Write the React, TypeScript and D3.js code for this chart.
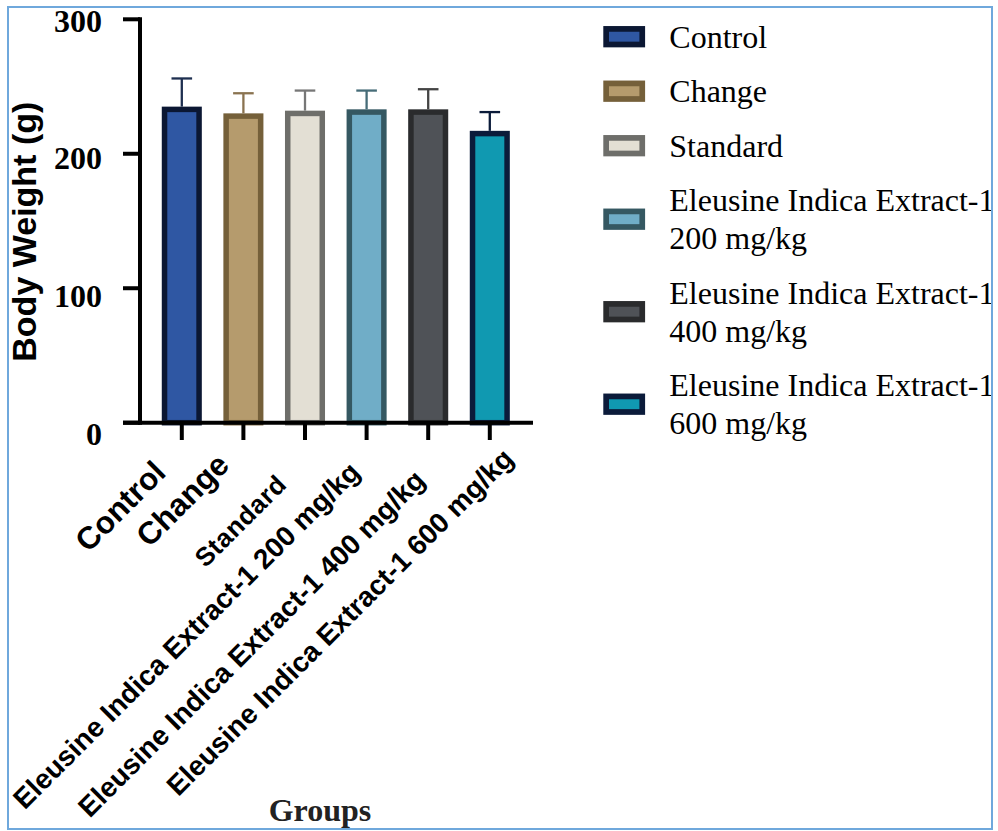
import React from "react";
import * as d3 from "d3";

// Groups and their mean body weight (g) with standard deviation
const groups = [
  "Control",
  "Change",
  "Standard",
  "Eleusine Indica Extract-1 200 mg/kg",
  "Eleusine Indica Extract-1 400 mg/kg",
  "Eleusine Indica Extract-1 600 mg/kg",
];
const meanWeight = [233, 228, 230, 231, 231, 215];
const sdWeight = [23, 17, 17, 16, 17, 16];
const yTicks = [0, 100, 200, 300];
const legendLines = [
  ["Control"],
  ["Change"],
  ["Standard"],
  ["Eleusine Indica Extract-1", "200 mg/kg"],
  ["Eleusine Indica Extract-1", "400 mg/kg"],
  ["Eleusine Indica Extract-1", "600 mg/kg"],
];

// Styling per group
const fillColors = ["#2F57A3", "#B59B6D", "#E3DFD4", "#70ADC7", "#4F5257", "#1099B1"];
const edgeColors = ["#0B1733", "#75603A", "#6E6E6A", "#355862", "#2A2B2D", "#0B1B3A"];
const errColors = ["#1E2F50", "#8A7350", "#777777", "#466C78", "#444444", "#0B1B3A"];
// Hand-placed anchor points for the rotated group labels (relative to tick end)
const labelNudge = [
  { dx: -14.3, dy: 34.3, size: 31.5, spacing: 0 },
  { dx: -12.4, dy: 26.8, size: 31.5, spacing: 0 },
  { dx: -17, dy: 46, size: 26, spacing: 0.5 },
  { dx: -5.1, dy: 33.8, size: 28, spacing: 0 },
  { dx: -1.7, dy: 42, size: 28, spacing: 0 },
  { dx: 25.2, dy: 20.5, size: 28, spacing: 0 },
];

const SERIF = "'Liberation Serif', 'Times New Roman', serif";
const SANS = "'Liberation Sans', Arial, sans-serif";

export default function App() {
  const W = 998;
  const H = 831;

  const y = d3.scaleLinear().domain([0, 300]).range([422.7, 19.3]);
  const yLabel = d3.scaleLinear().domain([0, 300]).range([445, 31.7]);
  const x = d3
    .scaleBand<string>()
    .domain(groups)
    .range([151, 520.6])
    .paddingInner(0.35)
    .paddingOuter(0.175);

  const axisX = 140;
  const axisY = y(0);
  const barStroke = 5.5;
  const bw = x.bandwidth();

  // legend layout: each entry takes lineHeight per line plus a gap
  const lineH = 38;
  const gap = 16.5;
  let cursor = 36.7 - (lineH + gap) / 2;
  const legendCenters = legendLines.map((lines) => {
    const h = lines.length * lineH + gap;
    const c = cursor + h / 2;
    cursor += h;
    return c;
  });

  return (
    <svg
      width={W}
      height={H}
      viewBox={`0 0 ${W} ${H}`}
      style={{ position: "absolute", left: 0, top: 0, display: "block", background: "#fff" }}
    >
      <defs>
        <clipPath id="frameClip">
          <rect x={8} y={7} width={983} height={821} />
        </clipPath>
      </defs>
      <rect x={0} y={0} width={W} height={H} fill="#fff" />

      {/* bars */}
      {groups.map((g, i) => {
        const x0 = x(g)!;
        const top = y(meanWeight[i]);
        return (
          <rect
            key={g}
            x={x0 + barStroke / 2}
            y={top}
            width={bw - barStroke}
            height={axisY - top}
            fill={fillColors[i]}
            stroke={edgeColors[i]}
            strokeWidth={barStroke}
          />
        );
      })}

      {/* error bars (upper SD) */}
      {groups.map((g, i) => {
        const cx = x(g)! + bw / 2;
        const top = y(meanWeight[i] + sdWeight[i]);
        const base = y(meanWeight[i]) - barStroke / 2;
        return (
          <g key={g} stroke={errColors[i]} strokeWidth={2.3}>
            <line x1={cx} x2={cx} y1={base} y2={top} />
            <line x1={cx - 10.3} x2={cx + 10.3} y1={top} y2={top} />
          </g>
        );
      })}

      {/* y axis */}
      <g stroke="#000" strokeWidth={4}>
        <line x1={axisX} x2={axisX} y1={y(300) - 2} y2={axisY + 2} />
        {yTicks.map((t) => (
          <line key={t} x1={123} x2={axisX} y1={y(t)} y2={y(t)} />
        ))}
      </g>
      {yTicks.map((t) => (
        <text
          key={t}
          x={102}
          y={yLabel(t)}
          textAnchor="end"
          fontFamily={SERIF}
          fontWeight="bold"
          fontSize={32}
          fill="#000"
        >
          {t}
        </text>
      ))}
      <text
        transform={`translate(36, 231.7) rotate(-90)`}
        textAnchor="middle"
        fontFamily={SANS}
        fontWeight="bold"
        fontSize={34}
        fill="#000"
      >
        Body Weight (g)
      </text>

      {/* x axis */}
      <g stroke="#000" strokeWidth={4}>
        <line x1={123} x2={533} y1={axisY} y2={axisY} />
        {groups.map((g) => {
          const cx = x(g)! + bw / 2;
          return <line key={g} x1={cx} x2={cx} y1={axisY} y2={440} />;
        })}
      </g>
      {groups.map((g, i) => {
        const cx = x(g)! + bw / 2;
        const n = labelNudge[i];
        return (
          <text
            key={g}
            transform={`translate(${cx + n.dx}, ${440 + n.dy}) rotate(-45)`}
            textAnchor="end"
            fontFamily={SANS}
            fontWeight="bold"
            fontSize={n.size}
            letterSpacing={n.spacing}
            fill="#000"
          >
            {g}
          </text>
        );
      })}
      <text
        x={320}
        y={821}
        textAnchor="middle"
        fontFamily={SERIF}
        fontWeight="bold"
        fontSize={32}
        fill="#222"
      >
        Groups
      </text>

      {/* legend */}
      <g clipPath="url(#frameClip)">
        {legendLines.map((lines, i) => {
          const c = legendCenters[i];
          const first = c + 11 - (lines.length - 1) * (lineH / 2);
          return (
            <g key={i}>
              <rect
                x={606.15}
                y={c - 7.8}
                width={36.1}
                height={15.6}
                fill={fillColors[i]}
                stroke={edgeColors[i]}
                strokeWidth={5.7}
              />
              {lines.map((ln, j) => (
                <text
                  key={j}
                  x={669.3}
                  y={first + j * lineH}
                  fontFamily={SERIF}
                  fontSize={32}
                  fill="#000"
                >
                  {ln}
                </text>
              ))}
            </g>
          );
        })}
      </g>

      {/* frame */}
      <rect x={8} y={7} width={984} height={822} fill="none" stroke="#6FA8DC" strokeWidth={2} />
    </svg>
  );
}
